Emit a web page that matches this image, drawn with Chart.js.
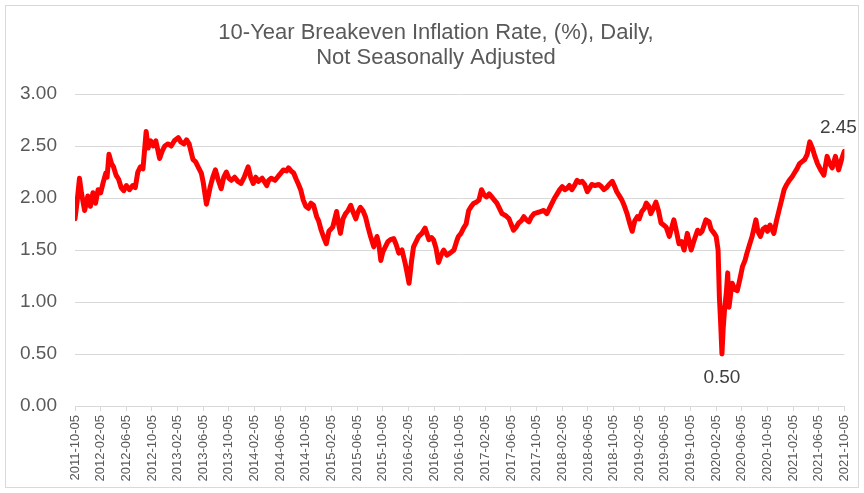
<!DOCTYPE html>
<html>
<head>
<meta charset="utf-8">
<script src="https://cdn.jsdelivr.net/npm/chart.js@4/dist/chart.umd.min.js"></script>
<style>
  html, body { margin: 0; padding: 0; background: #fff; }
  #wrap { width: 864px; height: 493px; }
</style>
</head>
<body>
<div id="wrap"><canvas id="bei" width="864" height="493"></canvas></div>
<script>
// Titel
const titleLines = ['10-Year Breakeven Inflation Rate, (%), Daily,', 'Not Seasonally Adjusted'];

// Achsenbeschriftung (alle 4 Monate)
const tickLabels = [
  '2011-10-05', '2012-02-05', '2012-06-05', '2012-10-05', '2013-02-05', '2013-06-05',
  '2013-10-05', '2014-02-05', '2014-06-05', '2014-10-05', '2015-02-05', '2015-06-05',
  '2015-10-05', '2016-02-05', '2016-06-05', '2016-10-05', '2017-02-05', '2017-06-05',
  '2017-10-05', '2018-02-05', '2018-06-05', '2018-10-05', '2019-02-05', '2019-06-05',
  '2019-10-05', '2020-02-05', '2020-06-05', '2020-10-05', '2021-02-05', '2021-06-05',
  '2021-10-05'
];

// Monate seit 2011-10-05
const months = [
  0, 0.3, 0.7, 1.0, 1.5, 2.0, 2.4, 2.8, 3.2, 3.6, 4.0, 4.4, 4.8, 5.0, 5.3, 5.7, 6.0, 6.4, 6.8,
  7.2, 7.6, 8.0, 8.5, 9.0, 9.4, 9.8, 10.2, 10.6, 11.1, 11.4, 11.8, 12.2, 12.6, 13.2, 13.6,
  14.0, 14.5, 15.0, 15.5, 16.1, 16.5, 17.0, 17.4, 17.8, 18.4, 18.8, 19.2, 19.7, 20.0, 20.5,
  20.8, 21.1, 21.5, 21.9, 22.3, 22.8, 23.2, 23.6, 24.0, 24.4, 24.9, 25.4, 25.9, 26.4, 27.0,
  27.4, 27.8, 28.2, 28.6, 29.2, 29.9, 30.2, 30.6, 31.2, 31.7, 32.1, 32.5, 33.0, 33.3, 33.7,
  34.1, 34.5, 34.8, 35.2, 35.6, 36.0, 36.4, 36.8, 37.2, 37.7, 38.0, 38.4, 38.8, 39.2, 39.6,
  40.2, 40.8, 41.1, 41.4, 41.8, 42.2, 42.6, 43.0, 43.4, 43.8, 44.1, 44.5, 44.9, 45.3, 45.7,
  46.1, 46.6, 47.1, 47.4, 47.7, 48.0, 48.4, 48.8, 49.2, 49.7, 50.1, 50.5, 51.0, 51.5, 51.8,
  52.1, 52.5, 52.8, 53.2, 53.6, 54.1, 54.6, 55.2, 55.6, 55.9, 56.3, 56.7, 57.1, 57.5, 58.0,
  58.5, 59.1, 59.5, 59.8, 60.2, 60.6, 61.0, 61.4, 61.8, 62.2, 62.6, 63.0, 63.4, 63.8, 64.2,
  64.6, 65.0, 65.4, 65.8, 66.2, 66.6, 67.2, 67.7, 68.0, 68.4, 68.8, 69.2, 69.6, 70.0, 70.4,
  70.8, 71.2, 71.6, 72.1, 72.6, 73.1, 73.6, 74.0, 74.4, 74.8, 75.2, 75.6, 76.0, 76.4, 76.7,
  77.1, 77.5, 77.9, 78.3, 78.7, 79.1, 79.5, 79.9, 80.3, 80.6, 81.1, 81.7, 82.1, 82.5, 82.9,
  83.3, 83.8, 84.1, 84.5, 84.9, 85.3, 85.7, 86.1, 86.5, 86.9, 87.3, 87.7, 88.0, 88.4, 88.8,
  89.1, 89.5, 89.8, 90.2, 90.6, 91.0, 91.4, 91.8, 92.2, 92.7, 93.0, 93.4, 93.8, 94.2, 94.6,
  95.0, 95.5, 96.1, 96.6, 97.1, 97.5, 97.8, 98.4, 98.9, 99.2, 99.7, 100.0, 100.3, 100.5, 100.7,
  100.9, 101.1, 101.3, 101.6, 101.8, 102.0, 102.3, 102.5, 102.9, 103.3, 103.7, 104.1, 104.5, 104.8, 105.2,
  105.6, 106.2, 106.5, 106.9, 107.3, 107.7, 108.0, 108.4, 109.0, 109.4, 109.8, 110.2, 110.6, 111.0, 111.4,
  111.8, 112.2, 112.6, 113.0, 113.4, 113.8, 114.2, 114.6, 115.0, 115.4, 115.8, 116.3, 116.8, 117.3, 117.7,
  118.1, 118.6, 119.1, 119.6, 120.0
];

// Breakeven-Rate in %
const rates = [
  1.80, 1.95, 2.19, 2.05, 1.88, 2.02, 1.92, 2.05, 1.95, 2.08, 2.05, 2.15, 2.24, 2.20, 2.42, 2.33, 2.30, 2.22, 2.18,
  2.10, 2.07, 2.12, 2.08, 2.12, 2.10, 2.25, 2.30, 2.28, 2.64, 2.48, 2.55, 2.50, 2.55, 2.38, 2.45,
  2.50, 2.52, 2.50, 2.55, 2.58, 2.54, 2.52, 2.56, 2.52, 2.37, 2.35, 2.30, 2.24, 2.15, 1.94,
  2.02, 2.11, 2.20, 2.27, 2.18, 2.09, 2.20, 2.25, 2.19, 2.17, 2.20, 2.16, 2.14, 2.20, 2.30,
  2.20, 2.14, 2.20, 2.16, 2.19, 2.12, 2.17, 2.19, 2.17, 2.21, 2.24, 2.27, 2.26, 2.29, 2.26,
  2.24, 2.18, 2.14, 2.08, 1.98, 1.92, 1.90, 1.95, 1.93, 1.82, 1.78, 1.69, 1.62, 1.56, 1.68,
  1.72, 1.87, 1.75, 1.66, 1.80, 1.85, 1.88, 1.93, 1.86, 1.80, 1.86, 1.91, 1.88, 1.82, 1.72,
  1.63, 1.53, 1.63, 1.55, 1.40, 1.48, 1.53, 1.58, 1.60, 1.61, 1.55, 1.47, 1.50, 1.37, 1.28,
  1.18, 1.40, 1.53, 1.58, 1.63, 1.66, 1.71, 1.60, 1.62, 1.60, 1.52, 1.38, 1.45, 1.50, 1.45,
  1.47, 1.50, 1.58, 1.63, 1.66, 1.71, 1.75, 1.88, 1.92, 1.95, 1.96, 1.98, 2.08, 2.03, 2.01,
  2.04, 2.01, 1.98, 1.95, 1.90, 1.85, 1.83, 1.80, 1.75, 1.69, 1.72, 1.76, 1.78, 1.82, 1.79,
  1.77, 1.82, 1.85, 1.86, 1.87, 1.88, 1.85, 1.90, 1.95, 2.00, 2.04, 2.08, 2.11, 2.08, 2.09,
  2.12, 2.08, 2.12, 2.17, 2.15, 2.16, 2.13, 2.06, 2.10, 2.13, 2.12, 2.13, 2.11, 2.08, 2.10,
  2.13, 2.16, 2.12, 2.06, 2.02, 1.98, 1.92, 1.85, 1.76, 1.68, 1.78, 1.82, 1.80, 1.87, 1.90,
  1.95, 1.92, 1.85, 1.90, 1.96, 1.88, 1.76, 1.74, 1.72, 1.63, 1.70, 1.79, 1.68, 1.56, 1.58,
  1.50, 1.66, 1.50, 1.60, 1.69, 1.66, 1.68, 1.79, 1.77, 1.70, 1.66, 1.63, 1.50, 1.05, 0.80,
  0.50, 0.75, 0.92, 1.10, 1.28, 0.95, 1.10, 1.18, 1.12, 1.11, 1.22, 1.34, 1.40, 1.47, 1.55,
  1.63, 1.79, 1.68, 1.63, 1.70, 1.72, 1.68, 1.74, 1.66, 1.78, 1.88, 1.98, 2.08, 2.13, 2.17,
  2.20, 2.24, 2.28, 2.33, 2.35, 2.37, 2.42, 2.54, 2.48, 2.40, 2.33, 2.27, 2.22, 2.40, 2.33,
  2.29, 2.40, 2.27, 2.38, 2.45
];

const textGray = '#595959';
const gridGray = '#d9d9d9';

// Rahmen, Titel und Wert-Beschriftungen
const decorPlugin = {
  id: 'decor',
  beforeDraw(chart) {
    const ctx = chart.ctx;
    ctx.save();
    ctx.strokeStyle = gridGray;
    ctx.lineWidth = 1;
    ctx.strokeRect(5.5, 5.5, 853, 482);
    ctx.fillStyle = textGray;
    ctx.font = '22px "Liberation Sans"';
    ctx.textAlign = 'center';
    ctx.textBaseline = 'middle';
    titleLines.forEach((t, i) => ctx.fillText(t, 436, 33 + i * 25));
    ctx.restore();
  },
  afterDatasetsDraw(chart) {
    const ctx = chart.ctx;
    const xs = chart.scales.x, ys = chart.scales.y;
    const last = rates.length - 1;
    let minI = 0;
    rates.forEach((v, i) => { if (v < rates[minI]) minI = i; });
    ctx.save();
    ctx.fillStyle = '#404040';
    ctx.font = '19px "Liberation Sans"';
    ctx.textAlign = 'center';
    ctx.textBaseline = 'middle';
    ctx.fillText(rates[last].toFixed(2), xs.getPixelForValue(months[last]) - 6, ys.getPixelForValue(rates[last]) - 23);
    ctx.fillText(rates[minI].toFixed(2), xs.getPixelForValue(months[minI]), ys.getPixelForValue(rates[minI]) + 24);
    ctx.restore();
  }
};

new Chart(document.getElementById('bei'), {
  type: 'line',
  data: {
    datasets: [{
      label: 'T10YIE',
      data: months.map((m, i) => ({ x: m, y: rates[i] })),
      borderColor: '#ff0000',
      borderWidth: 5,
      pointRadius: 0,
      tension: 0,
      borderJoinStyle: 'round',
      borderCapStyle: 'round'
    }]
  },
  options: {
    responsive: false,
    animation: false,
    layout: { padding: { left: 0, right: 18, top: 94, bottom: 0 } },
    plugins: {
      legend: { display: false },
      title: { display: false },
      tooltip: { enabled: false }
    },
    scales: {
      x: {
        type: 'linear',
        min: 0,
        max: 120,
        afterBuildTicks: (scale) => {
          scale.ticks = tickLabels.map((_, i) => ({ value: i * 4 }));
        },
        afterFit: (scale) => { scale.height = 87; },
        ticks: {
          autoSkip: false,
          minRotation: 90,
          maxRotation: 90,
          padding: 4,
          color: textGray,
          font: { family: 'Liberation Sans', size: 13 },
          callback: (v) => tickLabels[Math.round(v / 4)]
        },
        grid: { drawOnChartArea: false, drawTicks: true, tickLength: 5, color: gridGray },
        border: { color: gridGray }
      },
      y: {
        min: 0,
        max: 3,
        afterFit: (scale) => { scale.width = 75; },
        ticks: {
          stepSize: 0.5,
          padding: 18,
          color: textGray,
          font: { family: 'Liberation Sans', size: 19 },
          callback: (v) => v.toFixed(2)
        },
        grid: { color: gridGray, drawTicks: false },
        border: { display: false }
      }
    }
  },
  plugins: [decorPlugin]
});
</script>
</body>
</html>
